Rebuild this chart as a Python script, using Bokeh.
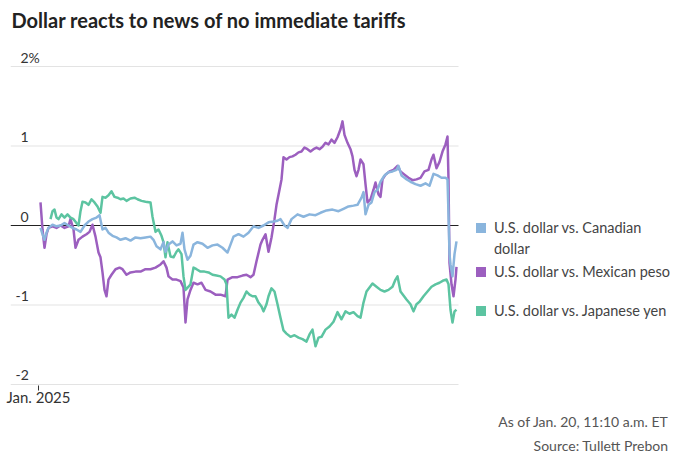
from bokeh.plotting import figure
from bokeh.models import Range1d, FixedTicker, Legend, LegendItem, Title, ColumnDataSource
from bokeh.core.properties import value
from bokeh.embed import file_html
from bokeh.resources import INLINE

# ---------------- data ----------------
title_text = "Dollar reacts to news of no immediate tariffs"
y_ticks = [2, 1, 0, -1, -2]
y_tick_labels = ["2%", "1", "0", "-1", "-2"]
x_tick_values = [0]
x_tick_labels = ["Jan. 2025"]
cad_label = ["U.S. dollar vs. Canadian", "dollar"]
mxn_label = "U.S. dollar vs. Mexican peso"
jpy_label = "U.S. dollar vs. Japanese yen"
note_text = "As of Jan. 20, 11:10 a.m. ET"
source_text = "Source: Tullett Prebon"

# x = intraday observation index since start of Jan. 2025, values = % change
cad_t = [2,4,6,8,10,14,18,22,26,30,34,38,42,46,50,54,58,61,64,67,70,74,78,82,87,92,97,102,107,112,115,118,122,125,127,130,134,138,142,144,146,149,152,155,159,164,169,174,179,184,189,192,195,200,205,210,215,220,225,230,235,239,242,246,249,253,259,265,271,277,282,288,294,300,305,310,315,319,323,325,327,330,333,336,339,342,346,350,354,358,360,363,367,372,377,382,387,391,395,399,403,407,409,410,411,412,414,416,418]
cad_v = [-0.03,-0.11,-0.18,-0.09,-0.03,0.01,-0.01,0.0,0.03,0.0,-0.03,-0.05,-0.08,0.0,0.05,0.08,0.10,0.13,-0.05,-0.03,-0.09,-0.13,-0.15,-0.18,-0.16,-0.19,-0.15,-0.16,-0.15,-0.14,-0.18,-0.26,-0.30,-0.21,-0.33,-0.24,-0.20,-0.25,-0.23,-0.09,-0.30,-0.43,-0.38,-0.24,-0.21,-0.23,-0.28,-0.25,-0.24,-0.28,-0.34,-0.24,-0.14,-0.11,-0.14,-0.09,-0.01,-0.03,0.0,0.04,0.05,0.06,0.08,0.0,-0.03,0.08,0.14,0.11,0.14,0.13,0.16,0.19,0.20,0.18,0.21,0.24,0.25,0.26,0.35,0.42,0.14,0.26,0.29,0.42,0.45,0.55,0.63,0.67,0.68,0.70,0.75,0.63,0.59,0.55,0.52,0.50,0.53,0.50,0.65,0.63,0.60,0.60,0.58,0.14,-0.36,-0.49,-0.64,-0.36,-0.20]

mxn_t = [2,4,6,8,10,14,18,22,26,30,32,35,37,40,44,48,51,54,57,60,62,64,66,68,70,73,77,81,84,88,92,97,102,107,112,117,122,125,128,130,134,138,142,145,147,149,152,155,159,163,167,172,177,182,187,189,194,199,204,208,212,215,218,222,224,227,230,233,236,238,241,243,245,248,251,254,257,260,263,266,269,272,275,278,281,284,287,290,293,296,299,302,304,306,309,312,314,316,318,320,322,325,327,329,332,335,337,340,342,344,347,351,355,359,362,366,370,374,378,382,386,390,393,395,398,401,404,407,409,410,411,413,415,417,418]
mxn_v = [0.29,-0.05,-0.28,-0.11,-0.03,-0.01,-0.03,0.0,-0.03,-0.01,0.08,-0.05,-0.28,-0.18,-0.14,-0.11,-0.08,0.01,-0.14,-0.34,-0.40,-0.59,-0.81,-0.89,-0.68,-0.62,-0.55,-0.53,-0.55,-0.62,-0.59,-0.58,-0.58,-0.55,-0.55,-0.53,-0.49,-0.45,-0.53,-0.64,-0.68,-0.68,-0.70,-0.78,-1.22,-0.93,-0.81,-0.72,-0.74,-0.72,-0.81,-0.83,-0.87,-0.87,-0.89,-0.68,-0.65,-0.65,-0.63,-0.62,-0.65,-0.62,-0.45,-0.24,-0.18,-0.11,-0.33,-0.15,0.08,0.26,0.45,0.58,0.86,0.83,0.86,0.87,0.89,0.92,0.93,0.98,0.96,0.93,0.96,0.98,0.96,0.99,1.04,1.02,1.08,1.04,1.11,1.21,1.31,1.14,1.04,0.96,0.87,0.70,0.62,0.70,0.83,0.77,0.52,0.29,0.33,0.45,0.54,0.39,0.36,0.58,0.64,0.68,0.70,0.75,0.68,0.64,0.60,0.57,0.58,0.60,0.68,0.70,0.83,0.89,0.72,0.80,0.93,1.02,1.12,0.58,-0.47,-0.74,-0.89,-0.68,-0.52]

jpy_t = [12,14,16,18,20,23,26,29,32,35,38,40,42,44,47,50,53,56,59,62,64,67,70,73,76,79,82,85,88,92,96,99,103,107,112,114,117,120,123,125,127,129,132,135,138,140,143,145,147,150,152,155,158,162,166,170,174,178,182,186,188,190,193,196,199,202,205,208,211,214,217,220,223,225,228,230,233,236,239,242,245,248,252,256,260,264,268,271,274,277,280,283,287,291,295,299,303,307,311,315,319,322,325,328,331,334,338,342,346,350,354,357,359,362,365,368,372,375,378,381,385,389,393,397,401,405,408,410,412,414,416,418]
jpy_v = [0.08,0.18,0.20,0.10,0.08,0.14,0.10,0.14,0.10,0.08,0.03,0.0,0.18,0.30,0.29,0.26,0.33,0.29,0.24,0.16,0.36,0.35,0.38,0.43,0.36,0.35,0.33,0.34,0.31,0.34,0.35,0.33,0.31,0.30,0.29,0.11,-0.08,-0.05,-0.13,-0.21,-0.40,-0.21,-0.39,-0.40,-0.33,-0.30,-0.36,-0.64,-0.81,-0.77,-0.74,-0.53,-0.55,-0.58,-0.58,-0.59,-0.62,-0.63,-0.64,-0.68,-0.74,-1.16,-1.12,-1.16,-1.06,-0.97,-0.91,-0.83,-0.87,-0.89,-0.89,-0.97,-1.02,-1.08,-0.99,-0.89,-0.79,-0.83,-0.99,-1.16,-1.32,-1.36,-1.40,-1.38,-1.41,-1.43,-1.46,-1.37,-1.31,-1.52,-1.41,-1.40,-1.31,-1.27,-1.21,-1.09,-1.18,-1.08,-1.11,-1.09,-1.14,-1.16,-0.97,-0.83,-0.78,-0.73,-0.77,-0.81,-0.83,-0.81,-0.77,-0.68,-0.64,-0.83,-0.88,-0.93,-0.99,-1.08,-0.99,-0.96,-0.89,-0.83,-0.77,-0.74,-0.72,-0.69,-0.68,-0.74,-1.06,-1.22,-1.08,-1.06]

# ---------------- layout & styles ----------------
colors = ["#8ab5dd", "#9c5fbf", "#5cc4a1"]
FONT = "Lato"
W, H = 678, 465
BL, BT, BB = 10, 36, 80           # borders: left, top, bottom
frame_w = W - BL

all_t = cad_t + mxn_t + jpy_t
x_lo = min(all_t) - 30            # plot starts a little left of the first point
x_grid_end = max(all_t) + 2       # gridlines stop just after the last point
x_hi = x_lo + frame_w             # 1 unit per pixel; right part holds the legend

p = figure(width=W, height=H, output_backend="svg", toolbar_location=None,
           x_range=Range1d(x_lo, x_hi), y_range=Range1d(-2.0126, 2.3774),
           min_border_left=BL, min_border_right=0, min_border_top=BT, min_border_bottom=BB)
p.outline_line_color = None
p.background_fill_color = "white"
p.border_fill_color = "white"

# title
p.title.text = title_text
p.title.text_font = FONT
p.title.text_font_size = "20px"
p.title.text_font_style = "bold"
p.title.text_color = "#222222"
p.title.align = "left"
p.title.offset = 1

# gridlines limited to the data area, zero line in black
p.xgrid.visible = False
p.ygrid.visible = False
grid_y = [t for t in y_ticks if t != 0]
p.segment(x0=[x_lo] * len(grid_y), y0=grid_y, x1=[x_grid_end] * len(grid_y), y1=grid_y,
          line_color="#e3e3e3", line_width=1)
p.segment(x0=[x_lo], y0=[0], x1=[x_grid_end], y1=[0], line_color="#222222", line_width=1.2)

# axes
p.yaxis.visible = False
p.xaxis.ticker = FixedTicker(ticks=x_tick_values)
p.xaxis.major_label_overrides = {v: l for v, l in zip(x_tick_values, x_tick_labels)}
p.xaxis.axis_line_color = None
p.xaxis.major_tick_in = 0
p.xaxis.major_tick_out = 5
p.xaxis.major_tick_line_color = "#333333"
p.xaxis.minor_tick_line_color = None
p.xaxis.major_label_text_font = FONT
p.xaxis.major_label_text_font_size = "15px"
p.xaxis.major_label_text_color = "#333333"
p.xaxis.major_label_standoff = -3

# y tick labels drawn inside the plot, above each gridline (minus signs hang left)
lab_src = ColumnDataSource(dict(x=[x_lo] * len(y_ticks), y=y_ticks, text=y_tick_labels,
                                xo=[5 if s.startswith("-") else 10 for s in y_tick_labels]))
p.text(x="x", y="y", text="text", x_offset="xo", y_offset=-9, source=lab_src,
       text_font=value(FONT), text_font_size="14px", text_color="#333333",
       text_align="left", text_baseline="alphabetic")

# lines
p.line(mxn_t, mxn_v, line_color=colors[1], line_width=2.5, line_join="round")
p.line(jpy_t, jpy_v, line_color=colors[2], line_width=2.5, line_join="round")
p.line(cad_t, cad_v, line_color=colors[0], line_width=2.5, line_join="round")

# legend: square swatches (size-0 proxies, the legend draws the squares)
def proxy(ts, vs, col, alpha=1.0):
    return p.scatter(x=ts[:1], y=vs[:1], marker="square", size=0, fill_color=col,
                     fill_alpha=alpha, line_color=None)

r_cad = proxy(cad_t, cad_v, colors[0])
r_cad2 = proxy(cad_t, cad_v, colors[0], alpha=0.0)
r_mxn = proxy(mxn_t, mxn_v, colors[1])
r_jpy = proxy(jpy_t, jpy_v, colors[2])

legend_x = x_grid_end - x_lo + 10
def add_legend(items, y, spacing=14):
    p.add_layout(Legend(items=items, location=(legend_x, y), orientation="vertical",
                        glyph_width=25, glyph_height=25, label_standoff=1, spacing=spacing,
                        padding=0, margin=0, border_line_color=None, background_fill_alpha=0,
                        label_text_font=FONT, label_text_font_size="14.5px",
                        label_text_color="#444444"))

add_legend([LegendItem(label=cad_label[0], renderers=[r_cad])], 145)
add_legend([LegendItem(label=cad_label[1], renderers=[r_cad2])], 124)
add_legend([LegendItem(label=mxn_label, renderers=[r_mxn]),
            LegendItem(label=jpy_label, renderers=[r_jpy])], 62)

# footer notes, right aligned
for txt in [note_text, source_text]:
    p.add_layout(Title(text=txt, align="right", offset=10, text_font=FONT,
                       text_font_size="14px", text_font_style="normal",
                       text_color="#555555", standoff=5), "below")

open("out.html", "w").write(file_html(p, INLINE))
